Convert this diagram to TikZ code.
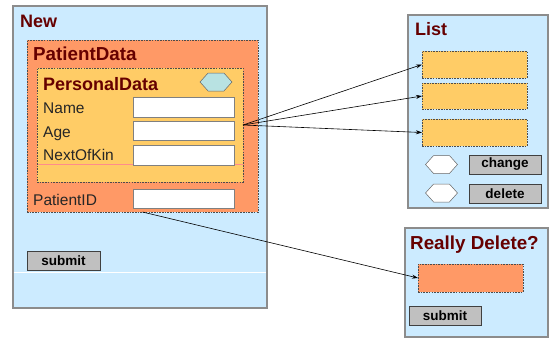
\documentclass[tikz,border=0pt]{standalone}
\usepackage{fontspec}
\setmainfont{Liberation Sans}
\usetikzlibrary{arrows.meta,shapes.symbols}

\definecolor{winblue}{HTML}{CCEBFF}
\definecolor{wingray}{HTML}{8C8C8C}
\definecolor{titlered}{HTML}{660000}
\definecolor{dataorange}{HTML}{FF9966}
\definecolor{datayellow}{HTML}{FFCC66}
\definecolor{hexteal}{HTML}{B8E2E2}
\definecolor{btngray}{HTML}{C0C0C0}

\tikzset{
 box/.style={rectangle, anchor=north west, inner sep=0pt, outer sep=0pt},
 window/.style={box, draw=wingray, fill=winblue, line width=1.1pt},
 panel/.style={box, draw=black!70, dash pattern=on 1.6pt off 1.1pt, line width=0.5pt},
 field/.style={box, draw=gray, fill=white, line width=0.8pt},
 button/.style={box, draw=black!75, fill=btngray, line width=0.8pt, font=\bfseries\fontsize{13.5}{15}\selectfont},
 hexa/.style={signal, signal to=east and west, signal pointer angle=96, draw=black!60, line width=0.5pt,
   inner sep=0pt, minimum width=32pt, minimum height=18pt},
 title/.style={anchor=base west, inner sep=0pt, text=titlered, font=\bfseries\fontsize{18}{20}\selectfont},
 subtitle/.style={anchor=base west, inner sep=0pt, text=titlered, font=\bfseries\fontsize{18.8}{21}\selectfont},
 label/.style={anchor=base west, inner sep=0pt, text=black!85, font=\fontsize{15.5}{17}\selectfont},
 arr/.style={-{Stealth[length=6pt,width=4pt]}, line width=0.6pt}
}

\begin{document}
\begin{tikzpicture}[x=1pt, y=-1pt]
 \useasboundingbox (0,0) rectangle (552,338);

 % New window
 \node (new) [window, minimum width=254, minimum height=302] at (13,6) {};
 \node (newtitle) [title] at (20,27) {New};
 \draw[white, line width=1pt] (13.6,272) -- (266.4,272);

 \node (patient) [panel, fill=dataorange, minimum width=231, minimum height=172] at (27,40) {};
 \node (patienttitle) [subtitle] at (33,60) {PatientData};

 \node (personal) [panel, fill=datayellow, minimum width=206, minimum height=114] at (37,68) {};
 \node (personaltitle) [title] at (43,90) {PersonalData};
 \node (hex) [hexa, fill=hexteal] at (216,82) {};
 \draw[red!45, line width=0.4pt] (37.5,164) -- (242.5,164);

 \node (name) [label] at (43,113) {Name};
 \node (age) [label] at (43,137) {Age};
 \node (kin) [label] at (43,160) {NextOfKin};
 \node (namefield) [field, minimum width=101, minimum height=20] at (133,97) {};
 \node (agefield) [field, minimum width=101, minimum height=19] at (133,121) {};
 \node (kinfield) [field, minimum width=101, minimum height=20] at (133,145) {};

 \node (pid) [label] at (33,205) {PatientID};
 \node (pidfield) [field, minimum width=101, minimum height=19] at (133,189) {};

 \node (submit) [button, minimum width=73, minimum height=19] at (27,251) {submit};

 % List window
 \node (list) [window, minimum width=140, minimum height=193] at (408,15) {};
 \node (listtitle) [title] at (415,35) {List};
 \node (item1) [panel, fill=datayellow, minimum width=105, minimum height=27] at (422,51) {};
 \node (item2) [panel, fill=datayellow, minimum width=105, minimum height=26] at (422,83) {};
 \node (item3) [panel, fill=datayellow, minimum width=105, minimum height=27] at (422,119) {};
 \node (hexchange) [hexa, fill=white] at (441.5,164.5) {};
 \node (hexdelete) [hexa, fill=white] at (441.5,193) {};
 \node (change) [button, minimum width=72, minimum height=19] at (469,155) {change};
 \node (delete) [button, minimum width=72, minimum height=19] at (469,184) {delete};

 % Really Delete window
 \node (really) [window, minimum width=143, minimum height=109] at (405,228) {};
 \node (reallytitle) [subtitle] at (410,249) {Really Delete?};
 \node (rdfield) [panel, fill=dataorange, minimum width=105, minimum height=28] at (418,264) {};
 \node (rdsubmit) [button, minimum width=72, minimum height=19] at (409,306) {submit};

 \draw[arr] (personal.east) -- (item1.west);
 \draw[arr] (personal.east) -- (item2.west);
 \draw[arr] (personal.east) -- (item3.west);
 \draw[arr] (patient.south) -- (rdfield.west);
\end{tikzpicture}
\end{document}
